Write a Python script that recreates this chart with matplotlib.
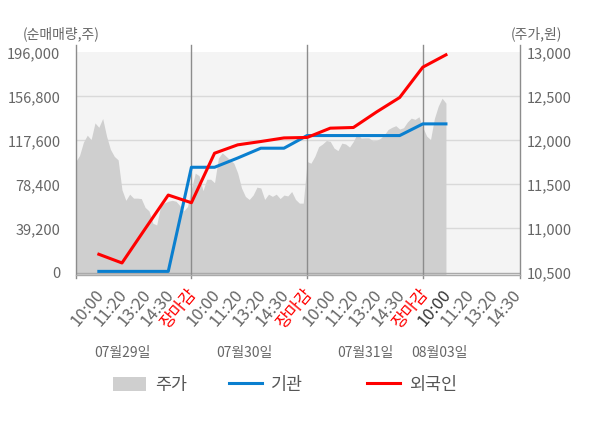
import numpy as np
import matplotlib
matplotlib.use("Agg")
import matplotlib.pyplot as plt
import matplotlib.transforms as mtransforms
from matplotlib.patches import Patch
from matplotlib.lines import Line2D

plt.rcParams['font.family'] = ['Noto Sans CJK KR', 'DejaVu Sans']

# ---------------- data ----------------
tick_labels = ['10:00', '11:20', '13:20', '14:30', '장마감'] * 3 + ['10:00', '11:20', '13:20', '14:30']
dates = ['07월29일', '07월30일', '07월31일', '08월03일']
date_pos = [2.0, 7.3, 12.5, 15.7]
left_ticks = [0, 39200, 78400, 117600, 156800, 196000]
right_ticks = [10500, 11000, 11500, 12000, 12500, 13000]

# net buying (shares) at slots 1..16
inst = [1000, 1000, 1000, 1000, 93750, 93750, 102000, 110740, 110740, 122000,
        122000, 122000, 122000, 122000, 132400, 132400]
foreign = [16246, 8495, 38900, 69000, 62150, 106270, 113725, 116700, 119900, 120300,
           128590, 129180, 143000, 155910, 182940, 193930]

# stock price sampled every 1/6 slot from day-1 open
price = [11761, 11830, 11980, 12060, 12010, 12200, 12150, 12250, 12050, 11900,
         11820, 11780, 11440, 11320, 11390, 11345, 11345, 11340, 11240, 11200,
         11060, 11040, 11250, 11290, 11310, 11320, 11310, 11260, 11200, 11250,
         11450, 11629, 11600, 11430, 11560, 11560, 11520, 11800, 11860, 11820,
         11780, 11742, 11630, 11460, 11364, 11330, 11380, 11470, 11460, 11330,
         11390, 11365, 11390, 11340, 11380, 11370, 11420, 11330, 11288, 11288,
         11761, 11742, 11820, 11930, 11960, 12000, 11990, 11913, 11885, 11970,
         11960, 11925, 11990, 12080, 12027, 12030, 12030, 11998, 12000, 12024,
         12064, 12125, 12150, 12168, 12130, 12145, 12210, 12254, 12240, 12270,
         12150, 12050, 12010, 12250, 12390, 12481, 12424]

# ---------------- figure ----------------
fig = plt.figure(figsize=(6, 4.28), dpi=100)
W, H = 600, 428
x0, x1, ytop, ybot = 75.7, 520, 45, 275
ax = fig.add_axes([x0 / W, 1 - ybot / H, (x1 - x0) / W, (ybot - ytop) / H])
ax2 = ax.twinx()

XMAX = 19.2

ax.set_facecolor('white')
ax.axhspan(10471.6, 13003, color='#f4f4f4', zorder=0, lw=0)

# gridlines
for v in right_ticks[1:-1]:
    ax.axhline(v, color='#d9d9d9', lw=1, zorder=1)
ax.axhline(10500, color='#aaaaaa', lw=1, zorder=3)

# price area
px = np.arange(len(price)) / 6.0
ax.fill_between(px, 10471.6, price, color='#cfcfcf', lw=0, zorder=2)

# vertical lines (spines + day separators), slightly extended
trans = mtransforms.blended_transform_factory(ax.transData, ax.transAxes)
for xv in [0, 5, 10, 15, XMAX]:
    ax.add_line(Line2D([xv, xv], [-0.015, 1.0], transform=trans, color='#8c8c8c',
                       lw=1, clip_on=False, zorder=4))
ax.add_line(Line2D([0, 1], [0, 0], transform=ax.transAxes, color='#aaaaaa', lw=1,
                   clip_on=False, zorder=4))

for s in ax.spines.values():
    s.set_visible(False)
for s in ax2.spines.values():
    s.set_visible(False)

# lines
kx = np.arange(1, len(inst) + 1)
ax2.plot(kx, inst, color='#0a7fcf', lw=2.2, zorder=5)
ax2.plot(kx, foreign, color='#ff0000', lw=2.2, zorder=6)

# y ticks
ax.yaxis.tick_right()
ax.set_yticks(right_ticks)
ax.set_yticklabels([f'{v:,}' for v in right_ticks])
ax.tick_params(axis='y', length=0, pad=5, labelsize=10.5, labelcolor='#666666')
ax2.yaxis.tick_left()
ax2.set_yticks(left_ticks)
ax2.set_yticklabels([f'{v:,}' for v in left_ticks])
ax2.tick_params(axis='y', length=0, pad=11, labelsize=10.5, labelcolor='#666666')

# x tick labels drawn as texts, nudged right/down of their slot
ax.set_xticks([])
ax2.set_xticks([])
label_trans = trans + mtransforms.ScaledTranslation(9 / 100, -11 / 100, fig.dpi_scale_trans)
for i, lab in enumerate(tick_labels):
    if lab == '장마감':
        col = '#ff0000'
    elif i == 15:
        col = '#333333'
    else:
        col = '#666666'
    ax.text(i + 1, 0, lab, transform=label_trans, rotation=50, ha='right', va='top',
            fontsize=12, color=col, clip_on=False)

ax.set_xlim(0, XMAX)
ax.set_ylim(10471.6, 13085)
ax2.set_ylim(-2227, 202680)

# date labels
for d, p in zip(dates, date_pos):
    fig.text((x0 + p * (x1 - x0) / XMAX) / W, 1 - 353 / H, d, fontsize=10, color='#666666',
             ha='center', va='center')

# axis titles
fig.text(61 / W, 1 - 34 / H, '(순매매량,주)', fontsize=10, color='#666666', ha='center', va='center')
fig.text(536 / W, 1 - 34 / H, '(주가,원)', fontsize=10, color='#666666', ha='center', va='center')

# legend (three separately placed entries)
handles = [Patch(facecolor='#cfcfcf', edgecolor='none'),
           Line2D([], [], color='#0a7fcf', lw=2.2),
           Line2D([], [], color='#ff0000', lw=2.2)]
names = ['주가', '기관', '외국인']
leg_x = [113, 229, 367]
for h, n, lx in zip(handles, names, leg_x):
    fig.legend([h], [n], loc='center left', bbox_to_anchor=(lx / W, 1 - 385 / H),
               frameon=False, fontsize=12.5, handlelength=1.9, handleheight=0.9,
               handletextpad=0.5, borderpad=0, borderaxespad=0, labelcolor='#555555')

fig.savefig('out.png', dpi=100)
